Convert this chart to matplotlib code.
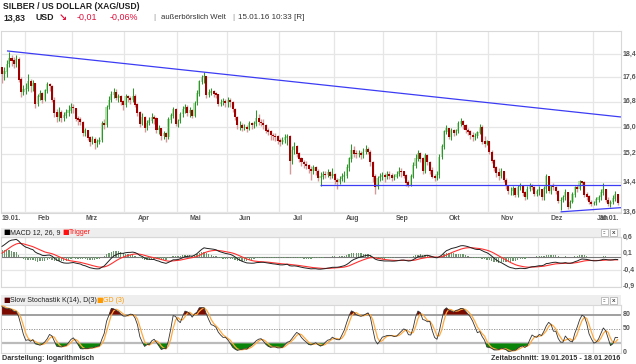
import numpy as np
import pandas as pd
import matplotlib
matplotlib.use("Agg")
import matplotlib.pyplot as plt
from matplotlib.patches import Rectangle

W, H = 636, 364

# daily closes before the visible window (only used to warm up the indicators)
pre_closes = [16.30, 15.82, 16.10, 16.25, 16.40,
              17.00, 17.30, 17.10, 17.15, 17.05,
              16.60, 16.00, 15.80, 16.10, 16.00,
              15.92, 15.70, 15.85, 15.85, 16.00,
              15.85, 15.75, 15.60, 15.60, 15.70,
              16.10, 16.55, 16.45, 16.00, 16.35,
              16.60, 16.55, 17.00, 17.20, 17.95]

# 19.01.2015 .. 15.01.2016, one value per trading day (week per row)
closes = [17.70, 17.78, 18.05, 18.25, 18.16,
          18.05, 18.22, 17.52, 17.10, 17.18,
          17.22, 17.45, 17.30, 17.38, 16.72,
          16.95, 17.05, 16.85, 17.15, 17.35,
          17.30, 16.85, 16.45, 16.30, 16.45,
          16.28, 16.35, 16.45, 16.50, 16.60,
          16.58, 16.25, 16.22, 16.15, 15.82,
          15.90, 15.68, 15.55, 15.62, 15.52,
          15.55, 15.60, 16.10, 16.05, 16.62,
          16.85, 17.02, 17.08, 16.92, 16.95,
          16.80, 16.68, 16.95, 16.90, 16.85,
          16.95, 16.70, 16.45, 16.10, 16.30,
          15.98, 16.12, 16.20, 16.30, 16.25,
          15.90, 15.95, 15.72, 15.80, 15.70,
          16.22, 16.35, 16.55, 16.10, 16.18,
          16.40, 16.55, 16.62, 16.42, 16.50,
          16.35, 16.75, 17.05, 17.45, 17.60,
          17.62, 17.00, 17.08, 17.12, 17.05,
          17.02, 16.72, 16.78, 16.80, 16.75,
          16.82, 16.78, 16.55, 16.30, 16.05,
          16.05, 15.98, 16.00, 15.95, 16.10,
          16.05, 16.10, 16.25, 16.15, 16.12,
          16.05, 15.88, 15.85, 15.75, 15.72,
          15.70, 15.58, 15.55, 15.60, 15.68,
          15.72, 15.00, 15.30, 15.40, 15.20,
          15.05, 14.95, 14.90, 14.85, 14.75,
          14.72, 14.80, 14.70, 14.52, 14.55,
          14.62, 14.60, 14.65, 14.58, 14.62,
          14.45, 14.40, 14.48, 14.55, 14.58,
          14.80, 15.05, 15.30, 15.20, 15.18,
          15.22, 15.15, 15.25, 15.32, 15.25,
          14.95, 14.55, 14.25, 14.50, 14.55,
          14.58, 14.55, 14.62, 14.58, 14.52,
          14.55, 14.62, 14.70, 14.68, 14.58,
          14.38, 14.32, 14.55, 14.85, 15.05,
          15.20, 15.05, 14.70, 15.15, 14.95,
          14.72, 14.55, 14.50, 14.60, 15.10,
          15.40, 15.85, 15.95, 15.70, 15.90,
          15.82, 15.88, 16.10, 16.18, 16.05,
          15.90, 15.85, 15.75, 15.70, 15.72,
          15.82, 16.00, 15.55, 15.50, 15.55,
          15.25, 15.00, 14.80, 14.65, 14.58,
          14.70, 14.45, 14.28, 14.15, 14.15,
          14.22, 14.05, 14.25, 14.28, 14.10,
          14.00, 14.20, 14.30, 14.25, 14.08,
          14.15, 14.18, 13.98, 14.22, 14.55,
          14.15, 14.28, 14.25, 14.15, 13.88,
          13.90, 13.98, 14.10, 13.72, 13.85,
          14.05, 14.25, 14.22, 14.40, 14.38,
          14.05, 14.00, 13.85, 13.80, 13.82,
          13.92, 13.98, 14.10, 14.20, 13.90,
          13.80, 13.85, 13.95, 14.05, 13.83]

highs = [17.88, 17.95, 18.20, 18.48, 18.38,
         18.30, 18.35, 18.28, 17.60, 17.35,
         17.40, 17.72, 17.55, 17.50, 17.42,
         17.05, 17.18, 17.10, 17.22, 17.45,
         17.42, 17.35, 16.95, 16.55, 16.62,
         16.52, 16.48, 16.55, 16.68, 16.75,
         16.72, 16.60, 16.35, 16.30, 16.20,
         15.98, 15.92, 15.72, 15.72, 15.70,
         15.65, 15.70, 16.20, 16.25, 16.70,
         16.98, 17.15, 17.25, 17.20, 17.05,
         17.00, 16.85, 17.05, 17.02, 16.98,
         17.25, 17.05, 16.75, 16.50, 16.42,
         16.35, 16.22, 16.32, 16.45, 16.38,
         16.30, 16.05, 15.98, 15.88, 15.85,
         16.30, 16.45, 16.62, 16.58, 16.25,
         16.48, 16.65, 16.72, 16.70, 16.62,
         16.55, 16.82, 17.18, 17.52, 17.68,
         17.78, 17.65, 17.20, 17.25, 17.18,
         17.12, 17.05, 16.88, 16.92, 16.88,
         16.95, 16.90, 16.82, 16.58, 16.35,
         16.18, 16.12, 16.10, 16.05, 16.18,
         16.15, 16.18, 16.52, 16.40, 16.25,
         16.25, 16.10, 15.98, 15.90, 15.82,
         15.82, 15.75, 15.68, 15.70, 15.78,
         15.80, 15.75, 15.42, 15.55, 15.45,
         15.25, 15.12, 15.02, 14.98, 14.90,
         14.85, 14.88, 14.85, 14.75, 14.68,
         14.72, 14.70, 14.75, 14.70, 14.78,
         14.65, 14.52, 14.58, 14.65, 14.72,
         14.90, 15.12, 15.48, 15.42, 15.30,
         15.30, 15.28, 15.38, 15.45, 15.40,
         15.30, 15.00, 14.62, 14.58, 14.65,
         14.68, 14.65, 14.72, 14.70, 14.65,
         14.62, 14.72, 14.82, 14.80, 14.70,
         14.62, 14.45, 14.62, 14.95, 15.18,
         15.30, 15.25, 15.10, 15.22, 15.20,
         15.00, 14.82, 14.62, 14.70, 15.18,
         15.48, 15.92, 16.05, 15.98, 15.98,
         15.95, 15.95, 16.20, 16.28, 16.22,
         16.08, 15.98, 15.92, 15.85, 15.82,
         15.88, 16.08, 16.05, 15.72, 15.62,
         15.58, 15.30, 15.05, 14.85, 14.78,
         14.78, 14.72, 14.50, 14.30, 14.25,
         14.28, 14.25, 14.32, 14.38, 14.32,
         14.15, 14.28, 14.38, 14.35, 14.28,
         14.22, 14.28, 14.20, 14.28, 14.62,
         14.52, 14.32, 14.38, 14.28, 14.18,
         13.98, 14.05, 14.22, 14.12, 13.92,
         14.12, 14.30, 14.32, 14.45, 14.42,
         14.42, 14.12, 14.05, 13.90, 13.88,
         14.00, 14.05, 14.22, 14.38, 14.22,
         13.98, 13.92, 14.05, 14.15, 14.08]

lows = [17.40, 17.50, 17.62, 17.95, 17.98,
        17.90, 17.95, 17.45, 16.95, 17.00,
        17.05, 17.15, 17.12, 17.15, 16.60,
        16.65, 16.85, 16.75, 16.82, 17.08,
        17.15, 16.80, 16.30, 16.15, 16.20,
        16.15, 16.18, 16.28, 16.35, 16.42,
        16.42, 16.18, 16.05, 16.05, 15.72,
        15.72, 15.60, 15.42, 15.48, 15.35,
        15.40, 15.48, 15.55, 15.95, 16.00,
        16.55, 16.80, 16.92, 16.85, 16.78,
        16.70, 16.52, 16.62, 16.78, 16.72,
        16.80, 16.62, 16.35, 16.00, 16.05,
        15.85, 15.92, 16.05, 16.12, 16.10,
        15.82, 15.80, 15.62, 15.65, 15.55,
        15.65, 16.12, 16.28, 16.02, 16.00,
        16.12, 16.32, 16.45, 16.35, 16.32,
        16.28, 16.30, 16.68, 16.98, 17.38,
        17.42, 16.92, 16.95, 17.00, 16.95,
        16.92, 16.65, 16.65, 16.70, 16.62,
        16.62, 16.62, 16.48, 16.22, 15.95,
        15.92, 15.88, 15.90, 15.85, 15.90,
        15.95, 15.98, 16.02, 16.05, 16.02,
        15.95, 15.82, 15.75, 15.62, 15.62,
        15.58, 15.50, 15.42, 15.48, 15.52,
        15.45, 14.62, 14.90, 15.18, 15.10,
        14.95, 14.85, 14.80, 14.75, 14.65,
        14.45, 14.62, 14.60, 14.42, 14.30,
        14.48, 14.50, 14.55, 14.48, 14.50,
        14.35, 14.22, 14.35, 14.42, 14.40,
        14.52, 14.72, 14.95, 15.10, 15.08,
        15.10, 15.05, 15.08, 15.20, 15.18,
        14.85, 14.40, 14.08, 14.20, 14.42,
        14.45, 14.40, 14.48, 14.48, 14.42,
        14.45, 14.50, 14.58, 14.55, 14.50,
        14.30, 14.25, 14.30, 14.50, 14.80,
        15.00, 14.95, 14.62, 14.65, 14.88,
        14.62, 14.50, 14.42, 14.45, 14.50,
        15.05, 15.35, 15.78, 15.65, 15.62,
        15.72, 15.75, 15.82, 16.02, 15.95,
        15.82, 15.75, 15.65, 15.58, 15.62,
        15.68, 15.78, 15.48, 15.40, 15.45,
        15.18, 14.92, 14.70, 14.55, 14.45,
        14.50, 14.40, 14.22, 14.08, 14.05,
        14.05, 13.98, 14.00, 14.18, 14.02,
        13.92, 13.95, 14.15, 14.18, 14.02,
        14.02, 14.05, 13.92, 13.90, 14.10,
        14.10, 14.08, 14.18, 14.08, 13.82,
        13.65, 13.85, 13.92, 13.68, 13.70,
        13.82, 14.00, 14.12, 14.18, 14.32,
        13.98, 13.92, 13.80, 13.75, 13.78,
        13.78, 13.85, 13.92, 14.05, 13.85,
        13.75, 13.72, 13.80, 13.88, 13.78]

month_labels = ["Feb", "Mrz", "Apr", "Mai", "Jun", "Jul", "Aug", "Sep", "Okt", "Nov", "Dez", "Jan"]
month_starts = [10, 30, 52, 74, 95, 117, 140, 161, 183, 205, 226, 249]
price_ticks = [13.6, 14.4, 15.2, 16.0, 16.8, 17.6, 18.4]
macd_ticks = [0.6, 0.1, -0.4, -0.9]
stoch_ticks = [80, 50, 0]

# trend lines drawn on the chart (index, price)
trend_down = ([2.1, 260.4], [18.51, 16.31])
support_flat = ([133.8, 260.4], [14.32, 14.32])
support_rise = ([235.0, 260.4], [13.60, 13.71])

plt.rcParams['font.family'] = ['Liberation Sans', 'DejaVu Sans']

fig = plt.figure(figsize=(W / 100, H / 100), dpi=100)


def px_axes(x0, y0, x1, y1):
    return fig.add_axes([x0 / W, 1 - y1 / H, (x1 - x0) / W, (y1 - y0) / H])


def ftext(x, y, s, **kw):
    kw.setdefault('va', 'center')
    fig.text(x / W, 1 - y / H, s, **kw)


n = len(closes)
idx = np.arange(n)
xlim = (-0.42, n + 0.42)
grid_c = '#e6e6e6'
frame_c = '#d8d8d8'
lab_c = '#555555'


def style(ax):
    ax.set_xlim(*xlim)
    ax.set_xticks([])
    ax.set_yticks([])
    for sp in ax.spines.values():
        sp.set_color(frame_c)
        sp.set_linewidth(0.8)
    for m in month_starts:
        ax.axvline(m - 0.5, color=grid_c, lw=0.9, zorder=0)


# --- indicators from the price series
c_all = pd.Series(pre_closes + closes)
h_all = pd.Series(pre_closes + highs)
l_all = pd.Series(pre_closes + lows)
macd = c_all.ewm(span=12, adjust=False).mean() - c_all.ewm(span=26, adjust=False).mean()
trigger = macd.ewm(span=9, adjust=False).mean()
hist = macd - trigger
hh = h_all.rolling(14).max()
ll = l_all.rolling(14).min()
fast_k = 100 * (c_all - ll) / (hh - ll)
slow_k = fast_k.rolling(3).mean()
gd = slow_k.rolling(3).mean()
k0 = len(pre_closes)
macd, trigger, hist = macd.values[k0:], trigger.values[k0:], hist.values[k0:]
slow_k, gd = slow_k.values[k0:], gd.values[k0:]

# --- main candle chart
ax = px_axes(1, 31, 621, 213)
style(ax)
ax.set_yscale('log')
ax.set_ylim(13.57, 19.23)
ax.minorticks_off()
ax.set_yticks([])
for t in price_ticks:
    ax.axhline(t, color=grid_c, lw=0.9, zorder=0)

opens = np.array([pre_closes[-1]] + closes[:-1])
cl = np.array(closes)
hi = np.array(highs)
lo = np.array(lows)
up = cl >= opens
dn = ~up
ax.vlines(idx[dn], lo[dn], hi[dn], color='#d49a9a', lw=1.0, zorder=2)
ax.bar(idx[dn], np.abs(cl - opens)[dn] + 0.015, bottom=np.minimum(cl, opens)[dn],
       width=0.85, color='#a00000', zorder=3)
ax.bar(idx[up], np.abs(cl - opens)[up] + 0.015, bottom=np.minimum(cl, opens)[up],
       width=0.95, color='#b4e0ac', zorder=2)
ax.vlines(idx[up], lo[up], hi[up], color='#2f952f', lw=0.75, zorder=3)

for xs, ys in (trend_down, support_flat, support_rise):
    ax.plot(xs, ys, color='#3c3cf5', lw=0.9, zorder=4, solid_capstyle='butt')

for t in price_ticks:
    y = ax.transData.transform((0, t))[1]
    fig.text(623 / W, y / fig.bbox.height, f"{t:.1f}".replace('.', ','),
             fontsize=5, fontweight='bold', color=lab_c, va='center')

ftext(2, 218, "19.01.", fontsize=5, fontweight='bold', color=lab_c)
for m, lab in zip(month_starts, month_labels):
    xp = 2 + (m - 0.5) * 618 / 260 + 19
    if lab == "Jan":
        xp = 603
    ftext(xp, 218, lab, fontsize=5, fontweight='bold', color=lab_c, ha='center')
ftext(619, 218, "16.01.", fontsize=5, fontweight='bold', color=lab_c, ha='right')

# --- header
ftext(3, 6.5, "SILBER / US DOLLAR (XAG/USD)", fontsize=6.2, fontweight='bold', color='#222222')
ftext(3, 17.5, "13,83", fontsize=6.3, fontweight='bold', color='#222222')
ftext(35, 17.5, "USD", fontsize=6.3, fontweight='bold', color='#222222')
ftext(59, 17.5, "\u2198", fontsize=7, fontweight='bold', color='#e0103c', family='DejaVu Sans')
ftext(77, 17.5, "-0,01", fontsize=6.4, color='#e0103c')
ftext(110, 17.5, "-0,06%", fontsize=6.4, color='#e0103c')
ftext(153, 17.5, "|", fontsize=6, color='#888888')
ftext(161, 17.5, "au\u00dferb\u00f6rslich Welt", fontsize=5.6, color='#333333')
ftext(232, 17.5, "|", fontsize=6, color='#888888')
ftext(238, 17.5, "15.01.16 10:33 [R]", fontsize=5.8, color='#333333')


def band(y0, y1):
    b = px_axes(1, y0, 621, y1)
    b.set_facecolor('#eeeeee')
    b.set_xticks([])
    b.set_yticks([])
    for sp in b.spines.values():
        sp.set_visible(False)
    for x0 in (601, 610):
        fig.add_artist(Rectangle(((x0) / W, 1 - (y1 - 1.5) / H), 7 / W, 6.5 / H,
                                 transform=fig.transFigure, facecolor='white',
                                 edgecolor='#aaaaaa', lw=0.5))
    ftext(604.5, (y0 + y1) / 2, "::", fontsize=4, color='#444444', ha='center', fontweight='bold')
    ftext(613.5, (y0 + y1) / 2, "x", fontsize=4.5, color='#444444', ha='center', fontweight='bold')


# --- MACD panel
band(228, 237)
ftext(3.5, 232.5, "\u25a0", fontsize=5, color='black', family='DejaVu Sans')
ftext(10, 232.5, "MACD 12, 26, 9", fontsize=5, color='#222222')
ftext(62, 232.5, "\u25a0", fontsize=5, color='#ff1010', family='DejaVu Sans')
ftext(69, 232.5, "Trigger", fontsize=5, color='#ff1010')

am = px_axes(1, 237, 621, 287)
style(am)
am.set_ylim(-0.91, 0.61)
for t in macd_ticks:
    am.axhline(t, color=grid_c, lw=0.9, zorder=0)
am.axhline(0, color='#777777', lw=0.8, zorder=1)
am.bar(idx, hist, width=0.55, color='#6f976f', zorder=2)
am.plot(idx, trigger, color='#ff3030', lw=0.8, zorder=3)
am.plot(idx, macd, color='#222222', lw=0.7, zorder=4)
for t in macd_ticks:
    y = am.transData.transform((0, t))[1]
    fig.text(623 / W, y / fig.bbox.height, f"{t:.1f}".replace('.', ','),
             fontsize=5, fontweight='bold', color=lab_c, va='center')

# --- Stochastic panel
band(295, 305)
ftext(3.5, 300, "\u25a0", fontsize=5, color='#5a0000', family='DejaVu Sans')
ftext(10, 300, "Slow Stochastik K(14), D(3)", fontsize=5, color='#222222')
ftext(96, 300, "\u25a0", fontsize=5, color='#ff9900', family='DejaVu Sans')
ftext(103, 300, "GD (3)", fontsize=5, color='#ff9900')

ast = px_axes(1, 305, 621, 353)
style(ast)
ast.set_ylim(0, 100)
ast.axhline(80, color='#999999', lw=1.3, zorder=1)
ast.axhline(20, color='#bbbbbb', lw=1.6, zorder=1)
ast.axhline(50, color='#888888', lw=0.6, ls=(0, (1.5, 1.5)), zorder=1)
ast.fill_between(idx, slow_k, 80, where=slow_k > 80, interpolate=True, color='#7b0a00', lw=0, zorder=2)
ast.fill_between(idx, slow_k, 20, where=slow_k < 20, interpolate=True, color='#0a850a', lw=0, zorder=2)
ast.plot(idx, gd, color='#ffaa40', lw=0.9, zorder=3)
ast.plot(idx, slow_k, color='#333333', lw=0.6, zorder=4)
for t in stoch_ticks:
    y = ast.transData.transform((0, t))[1]
    fig.text(623 / W, y / fig.bbox.height, str(t),
             fontsize=5, fontweight='bold', color=lab_c, va='center')

ftext(2, 359, "Darstellung: logarithmisch", fontsize=5.2, fontweight='bold', color='#333333')
ftext(620, 359, "Zeitabschnitt: 19.01.2015 - 18.01.2016", fontsize=5.2, fontweight='bold',
      color='#333333', ha='right')

fig.savefig("out.png", dpi=100, facecolor='white')
